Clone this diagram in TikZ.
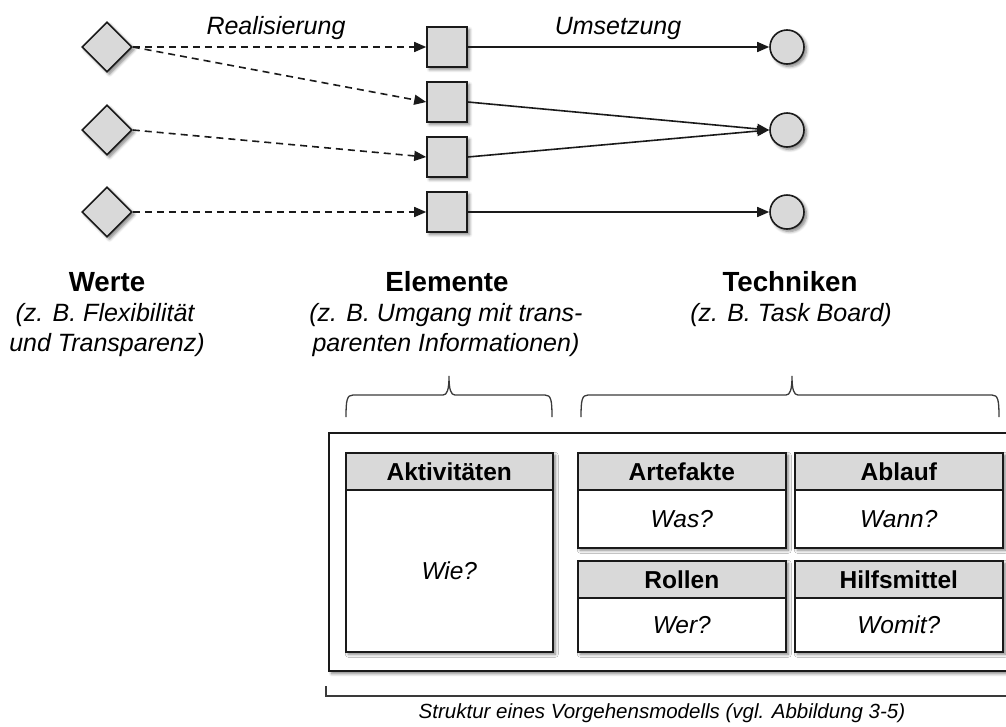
\documentclass[tikz,border=0pt]{standalone}
\usepackage{fontspec}
\setmainfont{Liberation Sans}
\usetikzlibrary{arrows.meta,shapes.geometric,shadows.blur,calc}

\definecolor{shapegray}{HTML}{D9D9D9}
\definecolor{inkline}{HTML}{1A1A1A}
\definecolor{bracketgray}{HTML}{3A3A3A}

\tikzset{
  softshadow/.style={blur shadow={shadow xshift=2.5pt, shadow yshift=-2.5pt,
      shadow blur radius=3pt, shadow blur steps=6, shadow opacity=50}},
  valnode/.style={diamond, draw=inkline, line width=1.6pt, fill=shapegray,
      minimum width=50pt, minimum height=50pt, inner sep=0pt, softshadow},
  elemnode/.style={rectangle, draw=inkline, line width=1.6pt, fill=shapegray,
      minimum width=40pt, minimum height=40pt, inner sep=0pt, softshadow},
  technode/.style={circle, draw=inkline, line width=1.6pt, fill=shapegray,
      minimum size=34pt, inner sep=0pt, softshadow},
  realize/.style={draw=inkline, line width=1.6pt, dash pattern=on 7pt off 5pt,
      -{Triangle[length=12pt,width=10pt]}},
  apply/.style={draw=inkline, line width=1.6pt, -{Triangle[length=12pt,width=10pt]}},
  flowlabel/.style={font=\fontsize{25}{30}\selectfont\itshape, anchor=base, inner sep=0pt},
  colhead/.style={font=\fontsize{27.7}{32}\selectfont\bfseries, anchor=base, inner sep=0pt},
  colsub/.style={font=\fontsize{25}{30}\selectfont\itshape, anchor=base, inner sep=0pt},
  frame/.style={rectangle, draw=inkline, line width=2.2pt, fill=white, inner sep=0pt,
      anchor=north west, softshadow},
  cell/.style={rectangle, draw=inkline, line width=1.6pt, fill=white, inner sep=0pt,
      anchor=north west, softshadow,
      path picture={
        \fill[shapegray] (path picture bounding box.north west)
          rectangle ([yshift=-37pt]path picture bounding box.north east);
        \draw[inkline, line width=1.6pt] ([yshift=-37pt]path picture bounding box.north west)
          -- ([yshift=-37pt]path picture bounding box.north east);}},
  cellhead/.style={font=\fontsize{24.5}{28}\selectfont\bfseries, anchor=base, inner sep=0pt},
  cellbody/.style={font=\fontsize{24.5}{28}\selectfont\itshape, anchor=base, inner sep=0pt},
  brace/.style={draw=bracketgray, line width=1.3pt},
  caption/.style={font=\fontsize{20.5}{24}\selectfont\itshape, anchor=base, inner sep=0pt}
}

\begin{document}
\begin{tikzpicture}[x=1pt, y=-1pt]
\useasboundingbox (0,0) rectangle (1006,726);
\clip (0,0) rectangle (1006,726);

% values, elements and techniques
\node[valnode] (v1) at (107,47) {};
\node[valnode] (v2) at (107,130) {};
\node[valnode] (v3) at (107,212) {};

\node[elemnode] (e1) at (447,47) {};
\node[elemnode] (e2) at (447,102) {};
\node[elemnode] (e3) at (447,157) {};
\node[elemnode] (e4) at (447,212) {};

\node[technode] (t1) at (787,47) {};
\node[technode] (t2) at (787,130) {};
\node[technode] (t3) at (787,212) {};

% realisation: values to elements
\draw[realize] (v1.east) -- (e1.west);
\draw[realize] (v1.east) -- (e2.west);
\draw[realize] (v2.east) -- (e3.west);
\draw[realize] (v3.east) -- (e4.west);

% implementation: elements to techniques
\draw[apply] (e1.east) -- (t1.west);
\draw[apply] (e2.east) -- (t2.west);
\draw[apply] (e3.east) -- (t2.west);
\draw[apply] (e4.east) -- (t3.west);

\node[flowlabel] (lblreal) at (276,34) {Realisierung};
\node[flowlabel] (lblums) at (618,34) {Umsetzung};

% column headings
\node[colhead] (hwerte) at (107,291) {Werte};
\node[colsub] (hwerte1) at (105,321) {(z. B. Flexibilität};
\node[colsub] (hwerte2) at (107,351) {und Transparenz)};

\node[colhead] (helem) at (447,291) {Elemente};
\node[colsub] (helem1) at (446,321) {(z. B. Umgang mit trans-};
\node[colsub] (helem2) at (446,351) {parenten Informationen)};

\node[colhead] (htech) at (790,291) {Techniken};
\node[colsub] (htech1) at (791,321) {(z. B. Task Board)};

% braces over the structure
\draw[brace] (346,417) .. controls (346,400) and (347,395) .. (353,395)
  -- (443,395) .. controls (447,395) and (449,390) .. (449,376)
  .. controls (449,390) and (451,395) .. (455,395)
  -- (545,395) .. controls (551,395) and (552,400) .. (552,417);
\draw[brace] (581,417) .. controls (581,400) and (582,395) .. (588,395)
  -- (786,395) .. controls (790,395) and (792,390) .. (792,376)
  .. controls (792,390) and (794,395) .. (798,395)
  -- (992,395) .. controls (998,395) and (999,400) .. (999,417);

% structure of a process model
\node[frame, minimum width=684pt, minimum height=238pt] (model) at (328,432) {};

\node[cell, minimum width=207pt, minimum height=199pt] (akt) at (345,452) {};
\node[cell, minimum width=208pt, minimum height=95pt] (art) at (577,452) {};
\node[cell, minimum width=208pt, minimum height=95pt] (abl) at (794,452) {};
\node[cell, minimum width=208pt, minimum height=91pt] (rol) at (577,560) {};
\node[cell, minimum width=208pt, minimum height=91pt] (hil) at (794,560) {};

\node[cellhead] (akth) at ($(akt.north)+(0,28)$) {Aktivitäten};
\node[cellbody] (aktb) at ($(akt.north)+(0,127)$) {Wie?};
\node[cellhead] (arth) at ($(art.north)+(0,28)$) {Artefakte};
\node[cellbody] (artb) at ($(art.north)+(0,75)$) {Was?};
\node[cellhead] (ablh) at ($(abl.north)+(0,28)$) {Ablauf};
\node[cellbody] (ablb) at ($(abl.north)+(0,75)$) {Wann?};
\node[cellhead] (rolh) at ($(rol.north)+(0,28)$) {Rollen};
\node[cellbody] (rolb) at ($(rol.north)+(0,73)$) {Wer?};
\node[cellhead] (hilh) at ($(hil.north)+(0,28)$) {Hilfsmittel};
\node[cellbody] (hilb) at ($(hil.north)+(0,73)$) {Womit?};

% bracket and caption below the structure
\coordinate (brk0) at (326,686);
\coordinate (brk1) at (326,696);
\coordinate (brk2) at (1012,696);
\draw[brace, line width=1.1pt] (brk0) -- (brk1) -- (brk2);
\node[caption] (cap) at (662,718) {Struktur eines Vorgehensmodells (vgl. Abbildung 3-5)};
\end{tikzpicture}
\end{document}
